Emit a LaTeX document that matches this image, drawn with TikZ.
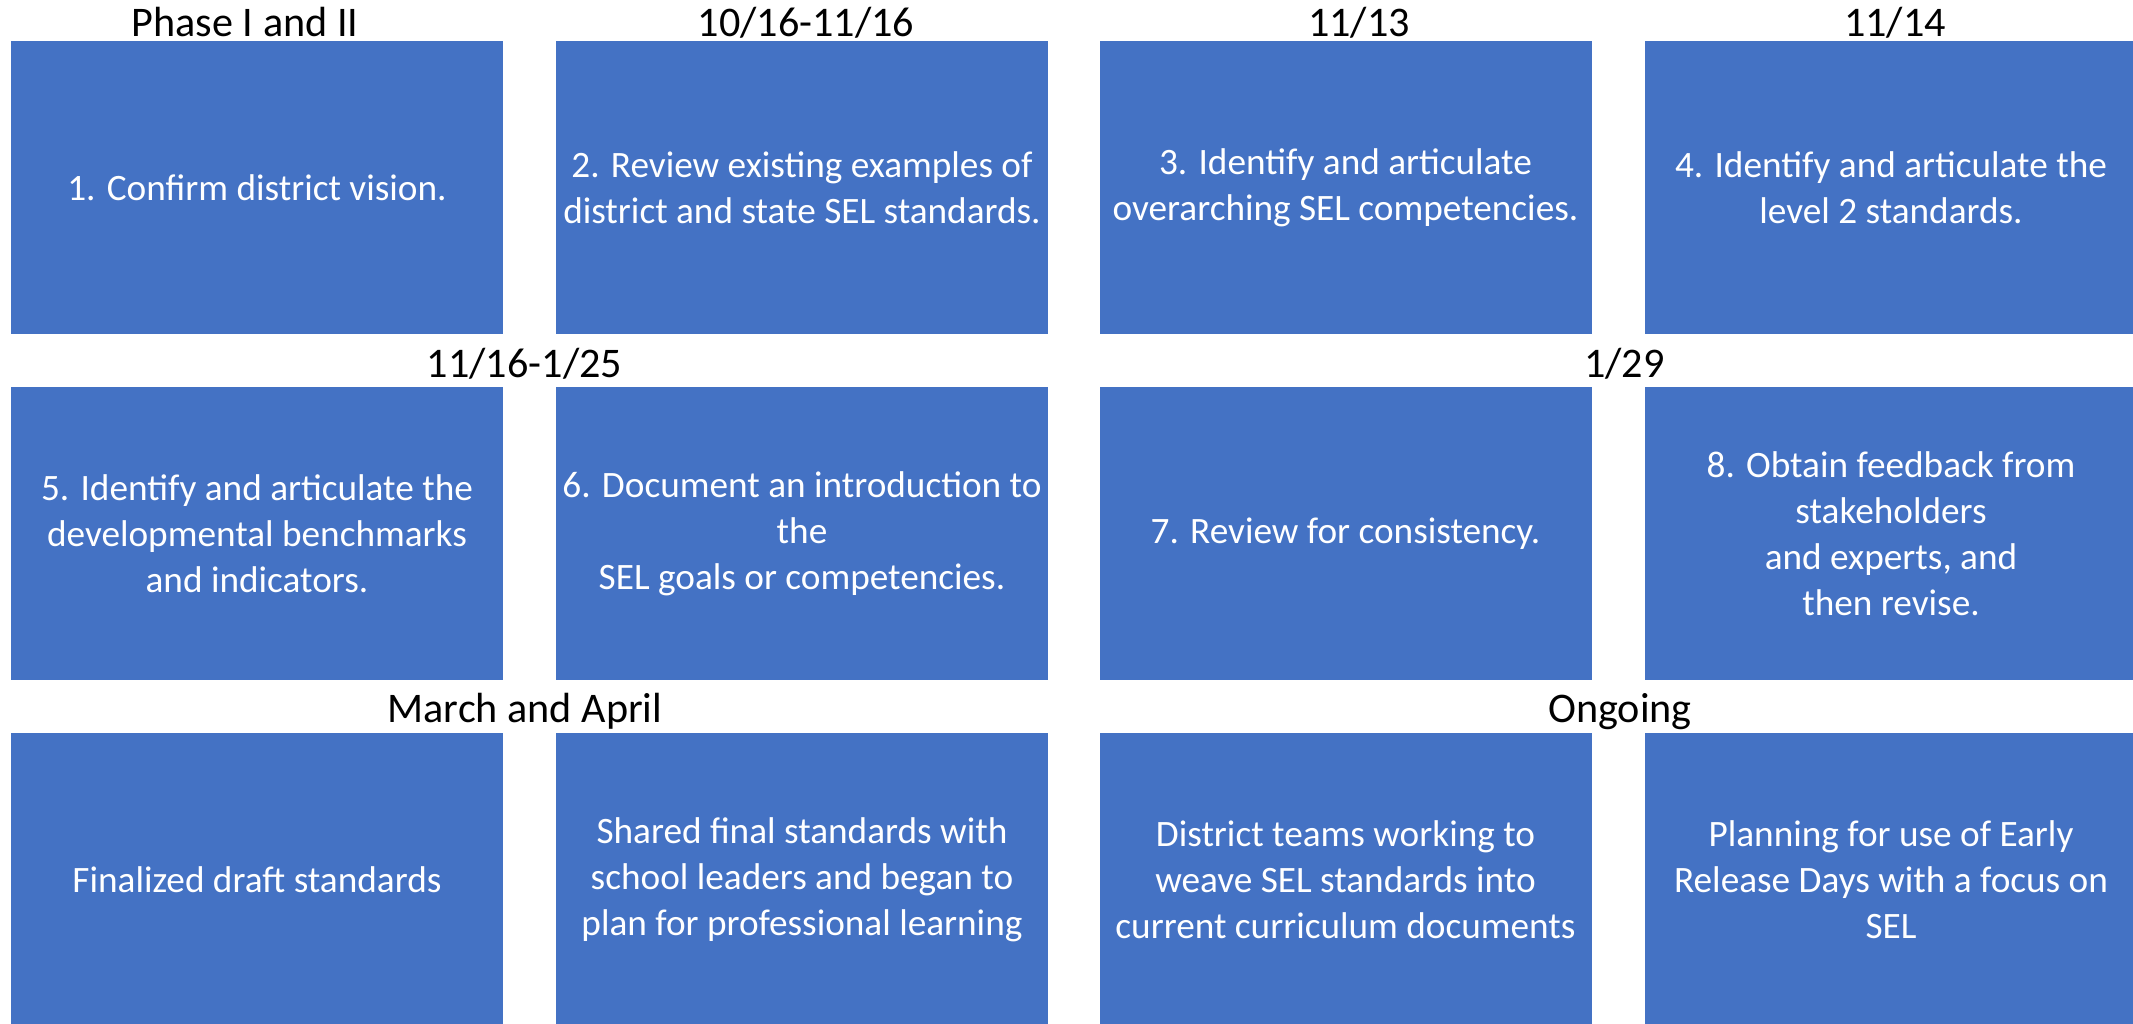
\documentclass[tikz,border=0pt]{standalone}
\usepackage{fontspec}
\setmainfont{Carlito}
\definecolor{stepblue}{HTML}{4472C4}
\tikzset{
    stepbox/.style={rectangle, fill=stepblue, text=white, align=center,
        minimum width=9.84cm, minimum height=5.86cm, inner sep=0pt,
        font=\fontsize{21.2}{26.2}\selectfont},
    datelabel/.style={anchor=base, inner sep=0pt,
        font=\fontsize{24}{29}\selectfont}
}
\begin{document}
\begin{tikzpicture}
        % Page frame
        \useasboundingbox (0,0) rectangle (42.66,20.46);
        \clip (0,0) rectangle (42.66,20.46);
        % Steps
        \foreach \n/\x/\y/\txt in {
            1/5.14/16.71/{1. Confirm district vision.},
            2/16.04/16.71/{2. Review existing examples of\\district and state SEL standards.},
            3/26.91/16.71/{3. Identify and articulate\\overarching SEL competencies.},
            4/37.82/16.71/{4. Identify and articulate the\\level 2 standards.},
            5/5.14/9.78/{5. Identify and articulate the\\developmental benchmarks\\and indicators.},
            6/16.04/9.78/{6. Document an introduction to\\the\\SEL goals or competencies.},
            7/26.91/9.78/{7. Review for consistency.},
            8/37.82/9.78/{8. Obtain feedback from\\stakeholders\\and experts, and\\then revise.},
            9/5.14/2.87/{Finalized draft standards},
            10/16.04/2.87/{Shared final standards with\\school leaders and began to\\plan for professional learning},
            11/26.91/2.87/{District teams working to\\weave SEL standards into\\current curriculum documents},
            12/37.82/2.87/{Planning for use of Early\\Release Days with a focus on\\SEL}}
            \node[stepbox] (s\n) at (\x,\y) {\txt};
        % Dates
        \foreach \n/\x/\y/\txt in {
            1/4.90/19.73/{Phase I and II},
            2/16.12/19.73/{10/16-11/16},
            3/27.18/19.73/{11/13},
            4/37.90/19.73/{11/14},
            5/10.49/12.90/{11/16-1/25},
            6/32.49/12.90/{1/29},
            7/10.50/6.01/{March and April},
            8/32.40/6.01/{Ongoing}}
            \node[datelabel] (d\n) at (\x,\y) {\txt};
    \end{tikzpicture}
\end{document}
